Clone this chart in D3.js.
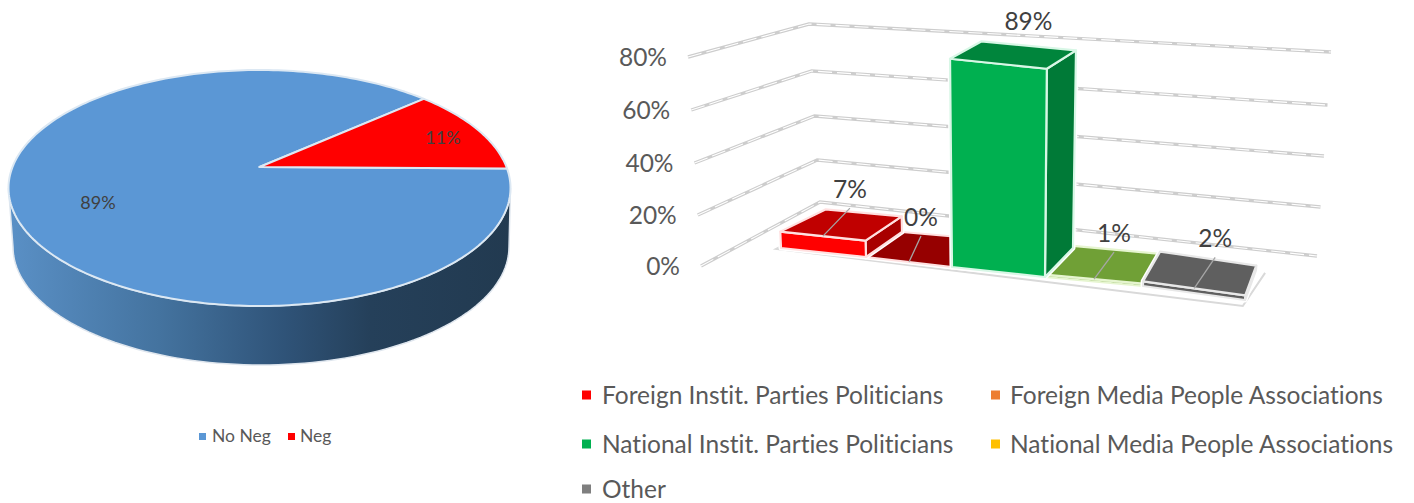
<!DOCTYPE html>
<html><head><meta charset="utf-8">
<script src="https://cdn.jsdelivr.net/npm/d3@7/dist/d3.min.js"></script>
<style>html,body{margin:0;background:#fff}svg{display:block}text{font-family:Lato,"Open Sans",sans-serif;fill:#595959;font-variant-ligatures:none}</style>
</head><body><svg id="c" width="1414" height="503"></svg>
<script>
// ---- data ----
const pieLabels = ["No Neg", "Neg"];
const pieValues = [89, 11];
const pieColors = ["#5b97d5", "#ff0000"];
const barCategories = ["Foreign Instit. Parties Politicians","Foreign Media People Associations","National Instit. Parties Politicians","National Media People Associations","Other"];
const barValues = [7, 0, 89, 1, 2];
const barLabels = ["7%","0%","89%","1%","2%"];
const legendColors = ["#ff0000","#ed7d31","#00b050","#ffc000","#7f7f7f"];
const axisTicks = [0,20,40,60,80];
// ---- styles ----
const frontColors = ["#ff0000","#a00000","#00b050","#70a036","#5f5f5f"];
const topColors   = ["#c00000","#960000","#00853c","#70a036","#5f5f5f"];
const sideColors  = ["#a80000","#800000","#007a37","#4e7026","#404040"];
const edgeColors  = ["#ffe0e0","#ffe0e0","#d8f7e6","#e6f5d0","#e8e8e8"];
const leaderDx = [27,12,30,20,21], leaderDy = [-28,-26,-23,-27,-31];
const hasLeader = [true,true,false,true,true];

const svg = d3.select("#c");
const defs = svg.append("defs");
const grad = defs.append("linearGradient").attr("id","side").attr("x1","0").attr("x2","1").attr("y1","0").attr("y2","0");
[[0,"#5a90c6"],[.3,"#44739f"],[.55,"#2f5378"],[.72,"#25405a"],[1,"#223a50"]].forEach(s=>grad.append("stop").attr("offset",s[0]).attr("stop-color",s[1]));

// ---- pie ----
const P = {cx:259.5, cy:188, rx:251, ry:118, ax:259.5, ay:167, depth:59, srx:248, scx:261};
const ell = (a,cx=P.cx,cy=P.cy,rx=P.rx,ry=P.ry)=>[cx+rx*Math.sin(a), cy-ry*Math.cos(a)];
const lineGen = d3.line();
const rad = d=>d*Math.PI/180;
const sideUpper = d3.range(90,271,2).map(d=>ell(rad(d)));
const sideLower = d3.range(270,89,-2).map(d=>ell(rad(d),P.scx,P.cy+P.depth,P.srx,P.ry));
const gP = svg.append("g");
gP.append("path").attr("d",lineGen(sideUpper.concat(sideLower))+"Z").attr("fill","url(#side)").attr("stroke","#dfe6ee").attr("stroke-width",1.5);
const pie = d3.pie().sort(null).startAngle(rad(80.5)).endAngle(rad(440.5));
const arcs = pie(pieValues);
gP.selectAll("path.slice").data(arcs).join("path").attr("class","slice")
  .attr("d",d=>{
    const n=Math.ceil((d.endAngle-d.startAngle)/0.02);
    const pts=d3.range(n+1).map(i=>ell(d.startAngle+(d.endAngle-d.startAngle)*i/n));
    return lineGen([[P.ax,P.ay]].concat(pts))+"Z";
  }).attr("fill",(d,i)=>pieColors[i]).attr("stroke","#dce8f3").attr("stroke-width",2).attr("stroke-linejoin","round");
const pieLabelPos = [[98,203],[443,138]];
gP.selectAll("text.pl").data(arcs).join("text").attr("class","pl")
  .attr("x",(d,i)=>pieLabelPos[i][0]).attr("y",(d,i)=>pieLabelPos[i][1]).attr("dy","0.35em")
  .attr("text-anchor","middle").attr("font-size",18).style("fill","#404040").text(d=>d.value+"%");
// pie legend
const pl = svg.append("g");
[[199,212],[288,300]].forEach((p,i)=>{
  pl.append("rect").attr("x",p[0]).attr("y",433).attr("width",7).attr("height",7).attr("fill",pieColors[i]);
  pl.append("text").attr("x",p[1]).attr("y",436).attr("dy","0.35em").attr("font-size",17.5).text(pieLabels[i]);
});

// ---- 3D bars ----
const idx = [0,1,2,3,4,5];
const fx = d3.scaleLinear().domain(idx).range([781,866,952,1045,1143,1245]);
const bx = d3.scaleLinear().domain(idx).range([826,902,982,1073,1160,1256]);
const fy = d3.scaleLinear().domain(idx).range([248,257,267,277,286,300]);
const by = d3.scaleLinear().domain(idx).range([225,232,239,248,256,270]);
const kFront = d3.scaleLinear().domain([0,100]).range([0,234]);
const kBack  = d3.scaleLinear().domain([0,100]).range([0,222]);
function pt(u,z,v){
  const x0=fx(u)+(bx(u)-fx(u))*z, y0=fy(u)+(by(u)-fy(u))*z;
  const h=kFront(v)+(kBack(v)-kFront(v))*z;
  return [x0+(x0-1000)*v*0.00046, y0-h];
}
// gridlines: left front / back corner / right front, each a scale of value
const wallL = {x:d3.scaleLinear().domain([0,80]).range([701,688]), y:d3.scaleLinear().domain(axisTicks).range([266,215,163,110,57])};
const wallC = {x:d3.scaleLinear().domain([0,80]).range([820,809]), y:d3.scaleLinear().domain(axisTicks).range([202,160,116,71,24])};
const wallR = {x:d3.scaleLinear().domain([0,80]).range([1317,1331]), y:d3.scaleLinear().domain(axisTicks).range([256,207,156,105,52])};
const gG = svg.append("g");
axisTicks.forEach(t=>{
  const d = lineGen([[wallL.x(t),wallL.y(t)],[wallC.x(t),wallC.y(t)],[wallR.x(t),wallR.y(t)]]);
  gG.append("path").attr("d",d).attr("fill","none").attr("stroke","#cdcdcd").attr("stroke-width",3.4);
  gG.append("path").attr("d",d).attr("fill","none").attr("stroke","#fff").attr("stroke-width",1.1).attr("stroke-dasharray","14 5");
  gG.append("text").attr("x",wallL.x(t)-21).attr("y",wallL.y(t)).attr("dy","0.35em").attr("text-anchor","end")
    .attr("font-size",24.5).text(t+"%");
});
// floor frame
const frame = [pt(-.05,1.12,0),pt(-.03,.35,0),pt(-.03,-.05,0),pt(5,-.2,0),pt(5.1,.95,0)];
svg.append("path").attr("d",lineGen(frame)).attr("fill","#fff").attr("stroke","#d9d9d9").attr("stroke-width",2);

const order = d3.range(barValues.length).sort((a,b)=>d3.ascending(barValues[a],barValues[b]));
const gB = svg.append("g");
const poly = a=>lineGen(a)+"Z";
order.forEach(i=>{
  const v=barValues[i], u0=i, u1=i+1;
  const g=gB.append("g").attr("stroke",edgeColors[i]).attr("stroke-width",2.2).attr("stroke-linejoin","round");
  const halo=[pt(u0,0,0),pt(u1,0,0),pt(u1,1,0),pt(u1,1,v),pt(u0,1,v),pt(u0,0,v)];
  g.append("path").attr("d",poly(halo)).attr("fill","none").attr("stroke","#fff").attr("stroke-width",5);
  if(v>0){
    g.append("path").attr("d",poly([pt(u1,0,0),pt(u1,1,0),pt(u1,1,v),pt(u1,0,v)])).attr("fill",sideColors[i]);
    g.append("path").attr("d",poly([pt(u0,0,0),pt(u1,0,0),pt(u1,0,v),pt(u0,0,v)])).attr("fill",frontColors[i]);
  }
  g.append("path").attr("d",poly([pt(u0,0,v),pt(u1,0,v),pt(u1,1,v),pt(u0,1,v)])).attr("fill",topColors[i]);
});
// leaders & labels
const gL = svg.append("g");
barValues.forEach((v,i)=>{
  const a=pt(i+.5,0,v), tip=[a[0]+leaderDx[i],a[1]+leaderDy[i]];
  if(hasLeader[i]) gL.append("path").attr("d",lineGen([a,tip])).attr("stroke","#a6a6a6").attr("stroke-width",1.3).attr("fill","none");
  gL.append("text").attr("x",tip[0]).attr("y",tip[1]-19).attr("dy","0.35em").attr("text-anchor","middle").attr("font-size",24.5).style("fill","#404040").text(barLabels[i]);
});
// legend
const legX=[[582,602],[991,1010]], legY=[395,444,489];
const gLeg=svg.append("g");
barCategories.forEach((c,i)=>{
  const col=i%2, row=Math.floor(i/2);
  gLeg.append("rect").attr("x",legX[col][0]).attr("y",legY[row]-4.5).attr("width",9).attr("height",9).attr("fill",legendColors[i]);
  gLeg.append("text").attr("x",legX[col][1]).attr("y",legY[row]).attr("dy","0.35em").attr("font-size",24.5).text(c);
});
</script></body></html>
